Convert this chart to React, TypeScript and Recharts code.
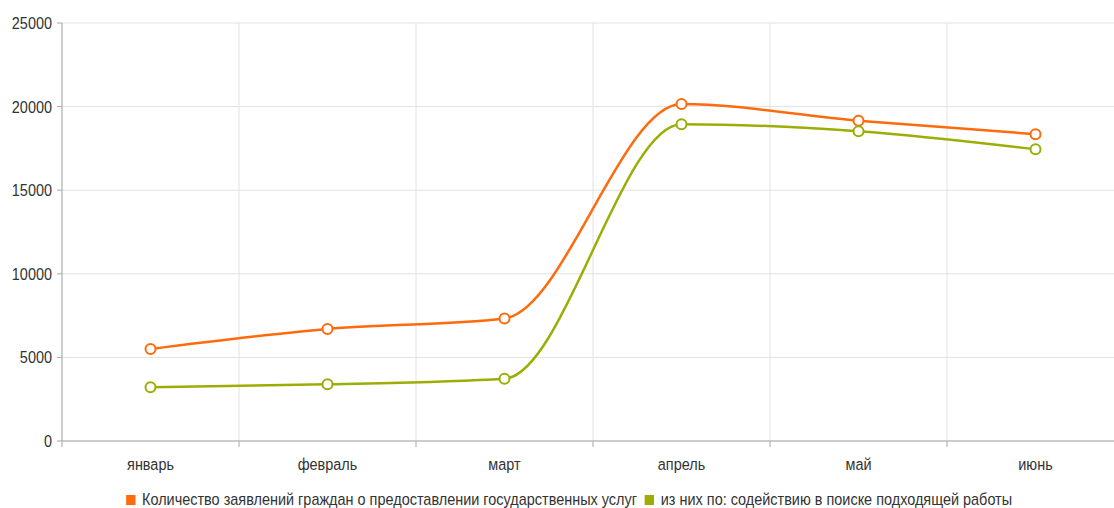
import React from 'react';
import { LineChart, Line, XAxis, YAxis, CartesianGrid, Legend } from 'recharts';

const months = ['январь', 'февраль', 'март', 'апрель', 'май', 'июнь'];
const applications = [5500, 6700, 7330, 20150, 19150, 18350];
const jobSearch = [3210, 3390, 3720, 18950, 18530, 17450];
const yTicks = [0, 5000, 10000, 15000, 20000, 25000];

const seriesNames = [
  'Количество заявлений граждан о предоставлении государственных услуг',
  'из них по: содействию в поиске подходящей работы',
];
const colors = ['#ff6a0c', '#9cae06'];

const data = months.map((m, i) => ({ month: m, a: applications[i], b: jobSearch[i] }));

const FONT = '"Liberation Sans", Arial, sans-serif';
const SQUEEZE = 0.85;
const AXIS_COLOR = '#a8a8a8';
const X_TICK_GAP = 17;

const MonthTick = (props: any) => {
  const { x, y, payload, index, visibleTicksCount } = props;
  const half = payload.offset || 0;
  const axisY = y - X_TICK_GAP;
  const isLast = index === (visibleTicksCount ?? months.length) - 1;
  return (
    <g>
      <line x1={x - half} x2={x - half} y1={axisY} y2={axisY + 6} stroke={AXIS_COLOR} />
      {isLast ? <line x1={x + half} x2={x + half} y1={axisY} y2={axisY + 6} stroke={AXIS_COLOR} /> : null}
      <text
        transform={`translate(${x},${y}) scale(${SQUEEZE},1)`}
        textAnchor="middle"
        dy="0.71em"
        fontFamily={FONT}
        fontSize={17}
        fill="#333"
      >
        {payload.value}
      </text>
    </g>
  );
};

const ValueTick = (props: any) => {
  const { x, y, payload } = props;
  return (
    <text
      transform={`translate(${x},${y}) scale(${SQUEEZE},1)`}
      textAnchor="end"
      dy="0.355em"
      fontFamily={FONT}
      fontSize={17}
      fill="#333"
    >
      {payload.value}
    </text>
  );
};

const LegendContent = () => (
  <div
    style={{
      width: 1114,
      textAlign: 'center',
      fontFamily: FONT,
      fontSize: 17,
      lineHeight: '16px',
      color: '#333',
      whiteSpace: 'nowrap',
      transform: `scaleX(${SQUEEZE})`,
      transformOrigin: '557px 0',
    }}
  >
    {seriesNames.map((n, i) => (
      <span key={n} style={{ display: 'inline-flex', alignItems: 'center', marginRight: i === 0 ? 9 : 0 }}>
        <span style={{ display: 'inline-block', width: 11, height: 10, background: colors[i], marginRight: 8 }} />
        {n}
      </span>
    ))}
  </div>
);

export default function App() {
  return (
    <div style={{ position: 'absolute', left: 0, top: 0, width: 1114, height: 508, background: '#fff', overflow: 'hidden' }}>
      <LineChart width={1124} height={508} data={data} margin={{ top: 23, right: 0, left: 0, bottom: 37 }}>
        <CartesianGrid
          stroke="#e2e2e2"
          strokeWidth={1}
          verticalCoordinatesGenerator={({ offset }: any) =>
            [0, 1, 2, 3, 4, 5, 6].map((i) => offset.left + (i * offset.width) / months.length)
          }
        />
        <XAxis
          dataKey="month"
          scale="band"
          height={30}
          tickLine={false}
          axisLine={{ stroke: AXIS_COLOR }}
          tickSize={0}
          tickMargin={X_TICK_GAP}
          tick={<MonthTick />}
          interval={0}
        />
        <YAxis
          width={62}
          domain={[0, 25000]}
          ticks={yTicks}
          tickSize={5}
          tickMargin={5}
          tick={<ValueTick />}
          axisLine={{ stroke: AXIS_COLOR }}
          tickLine={{ stroke: AXIS_COLOR }}
        />
        <Legend verticalAlign="middle" wrapperStyle={{ top: 492, left: 12, width: 1114 }} content={<LegendContent />} />
        <Line
          type="monotone"
          dataKey="a"
          name={seriesNames[0]}
          stroke={colors[0]}
          strokeWidth={2.5}
          dot={{ r: 5, fill: '#fff', stroke: colors[0], strokeWidth: 2 }}
          activeDot={false}
          isAnimationActive={false}
        />
        <Line
          type="monotone"
          dataKey="b"
          name={seriesNames[1]}
          stroke={colors[1]}
          strokeWidth={2.5}
          dot={{ r: 5, fill: '#fff', stroke: colors[1], strokeWidth: 2 }}
          activeDot={false}
          isAnimationActive={false}
        />
      </LineChart>
    </div>
  );
}
